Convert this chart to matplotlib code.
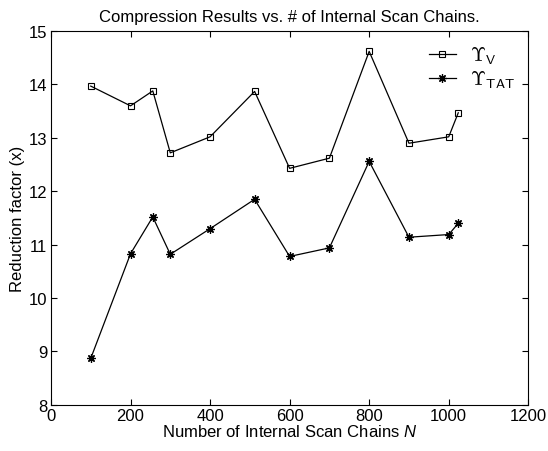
import matplotlib
matplotlib.use("Agg")
import matplotlib.pyplot as plt

plt.rcParams['font.family'] = ['Liberation Sans', 'DejaVu Sans']
plt.rcParams['mathtext.fontset'] = 'custom'
plt.rcParams['mathtext.rm'] = 'Liberation Sans'
plt.rcParams['mathtext.it'] = 'Liberation Sans:italic'

# number of internal scan chains
chains = [100, 200, 256, 300, 400, 512, 600, 700, 800, 900, 1000, 1024]
# reduction factors
upsilon_v = [13.97, 13.6, 13.88, 12.72, 13.02, 13.87, 12.43, 12.62, 14.62, 12.9, 13.02, 13.47]
upsilon_tat = [8.87, 10.83, 11.52, 10.82, 11.3, 11.85, 10.78, 10.94, 12.56, 11.14, 11.19, 11.4]

fig = plt.figure(figsize=(5.48, 4.52), dpi=100)
ax = fig.add_axes([0.093, 0.102, 0.871, 0.827])

ax.plot(chains, upsilon_v, color='black', lw=0.9, marker='s', ms=4.5,
        mfc='none', mew=0.8, label=r'$\Upsilon_{\mathsf{V}}$')
ax.plot(chains, upsilon_tat, color='black', lw=0.9, marker=(8, 2, 0), ms=6,
        mew=0.9, label=r'$\Upsilon_{\mathsf{TAT}}$')

ax.set_xlim(0, 1200)
ax.set_ylim(8, 15)
ax.set_xticks(range(0, 1201, 200))
ax.set_yticks(range(8, 16))
ax.tick_params(direction='in', top=True, right=True, labelsize=12, length=4, pad=2.5)
for s in ax.spines.values():
    s.set_linewidth(0.8)

ax.set_title("Compression Results vs. # of Internal Scan Chains.", fontsize=12, pad=7)
ax.set_xlabel(r"Number of Internal Scan Chains $N$", fontsize=12, labelpad=0)
ax.set_ylabel("Reduction factor (x)", fontsize=12, labelpad=3)

leg = ax.legend(loc='upper right', frameon=False, handlelength=1.4,
                handletextpad=0.7,
                prop={'size': 14, 'math_fontfamily': 'cm'},
                borderaxespad=0.3, labelspacing=0.15)

fig.savefig("out.png", dpi=100)
